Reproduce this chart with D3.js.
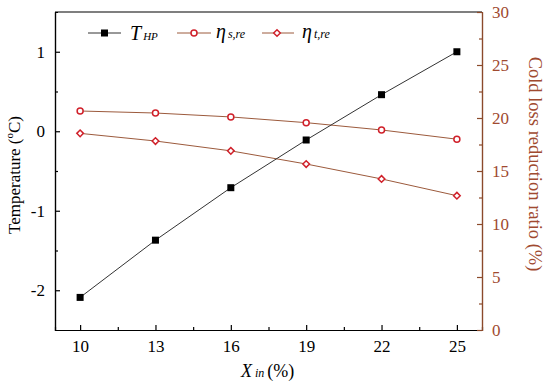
<!DOCTYPE html>
<html><head><meta charset="utf-8">
<script src="https://cdn.jsdelivr.net/npm/d3@7"></script>
<style>body{margin:0;background:#fff}svg{display:block}svg text{font-family:"Liberation Serif","Times New Roman",serif !important}</style>
</head><body><svg id="c" width="550" height="390"></svg>
<script>
const xValues = [10, 13, 16, 19, 22, 25];
const tHP = [-2.09, -1.37, -0.71, -0.11, 0.46, 1.0];
const etaS = [20.66, 20.47, 20.1, 19.56, 18.87, 18.0];
const etaT = [18.55, 17.83, 16.9, 15.66, 14.25, 12.67];
const xTicks = [10, 13, 16, 19, 22, 25];
const yLeftTicks = [-2, -1, 0, 1];
const yRightTicks = [0, 5, 10, 15, 20, 25, 30];

const svg = d3.select("#c");
const L = 55, R = 482, T = 12, B = 330;
const x = d3.scaleLinear().domain([9, 26]).range([L, R]);
const yL = d3.scaleLinear().domain([-2.5, 1.5]).range([B, T]);
const yR = d3.scaleLinear().domain([0, 30]).range([B, T]);
const brown = "#9c5a3c", red = "#d0202a", axisBrown = "#8b4a2b";

svg.append("line").attr("x1", L).attr("x2", R).attr("y1", T).attr("y2", T).attr("stroke", "#000").attr("stroke-width", 1.2);

const gx = svg.append("g").attr("transform", `translate(0,${B})`);
gx.append("g").call(d3.axisBottom(x).tickValues([11.5,14.5,17.5,20.5,23.5]).tickSize(-3).tickFormat(""));
gx.append("g").call(d3.axisBottom(x).tickValues(xTicks).tickSizeInner(-5).tickSizeOuter(0).tickPadding(10));
const gl = svg.append("g").attr("transform", `translate(${L},0)`);
gl.append("g").call(d3.axisLeft(yL).tickValues([-1.5,-0.5,0.5]).tickSize(-3).tickFormat(""));
gl.append("g").call(d3.axisLeft(yL).tickValues(yLeftTicks).tickSizeInner(-5).tickSizeOuter(0).tickPadding(10).tickFormat(d => d < 0 ? "-" + Math.abs(d) : String(d)));
const gr = svg.append("g").attr("transform", `translate(${R},0)`);
gr.append("g").call(d3.axisRight(yR).tickValues([2.5,7.5,12.5,17.5,22.5,27.5]).tickSize(-3).tickFormat(""));
gr.append("g").call(d3.axisRight(yR).tickValues(yRightTicks).tickSizeInner(-5).tickSizeOuter(0).tickPadding(10));

svg.selectAll("g").attr("font-family", null).attr("font-size", null);
[gx, gl].forEach(g => { g.selectAll("path,line").attr("stroke", "#000").attr("stroke-width", 1.2); g.selectAll("text").attr("font-size", 17).attr("fill", "#000"); });
gr.selectAll("path,line").attr("stroke", axisBrown).attr("stroke-width", 1.2);
gr.selectAll("text").attr("font-size", 17).attr("fill", "#a04a30");

const line = (ys, sc) => d3.line().x((d, i) => x(xValues[i])).y(d => sc(d))(ys);
svg.append("path").attr("d", line(etaS, yR)).attr("fill", "none").attr("stroke", brown).attr("stroke-width", 1);
svg.append("path").attr("d", line(etaT, yR)).attr("fill", "none").attr("stroke", brown).attr("stroke-width", 1);
svg.append("path").attr("d", line(tHP, yL)).attr("fill", "none").attr("stroke", "#333").attr("stroke-width", 1);

svg.selectAll(".mS").data(etaS).join("circle").attr("cx", (d, i) => x(xValues[i])).attr("cy", d => yR(d)).attr("r", 3)
  .attr("fill", "#fff").attr("stroke", red).attr("stroke-width", 1.5);
const diamond = d3.symbol().type(d3.symbolDiamond2).size(28);
svg.selectAll(".mT").data(etaT).join("path").attr("d", diamond).attr("transform", (d, i) => `translate(${x(xValues[i])},${yR(d)})`)
  .attr("fill", "#fff").attr("stroke", red).attr("stroke-width", 1.5);
svg.selectAll(".mH").data(tHP).join("rect").attr("x", (d, i) => x(xValues[i]) - 3.5).attr("y", d => yL(d) - 3.5)
  .attr("width", 7).attr("height", 7).attr("fill", "#000");

const ly = 33;
svg.append("line").attr("x1", 88).attr("x2", 121).attr("y1", ly).attr("y2", ly).attr("stroke", "#333");
svg.append("rect").attr("x", 104.5 - 3.5).attr("y", ly - 3.5).attr("width", 7).attr("height", 7).attr("fill", "#000");
let t = svg.append("text").attr("x", 130).attr("y", ly + 7).attr("font-size", 20).attr("font-style", "italic");
t.append("tspan").text("T");
t.append("tspan").attr("font-size", 11).attr("dx", 2).text("HP");

svg.append("line").attr("x1", 177).attr("x2", 211).attr("y1", ly).attr("y2", ly).attr("stroke", brown);
svg.append("circle").attr("cx", 194).attr("cy", ly).attr("r", 3).attr("fill", "#fff").attr("stroke", red).attr("stroke-width", 1.5);
t = svg.append("text").attr("x", 216).attr("y", ly + 5).attr("font-size", 20).attr("font-style", "italic");
t.append("tspan").text("η");
t.append("tspan").attr("font-size", 12).attr("dx", 2).text("s,re");

svg.append("line").attr("x1", 262).attr("x2", 294).attr("y1", ly).attr("y2", ly).attr("stroke", brown);
svg.append("path").attr("d", diamond).attr("transform", `translate(277,${ly})`).attr("fill", "#fff").attr("stroke", red).attr("stroke-width", 1.5);
t = svg.append("text").attr("x", 302).attr("y", ly + 5).attr("font-size", 20).attr("font-style", "italic");
t.append("tspan").text("η");
t.append("tspan").attr("font-size", 12).attr("dx", 2).text("t,re");

t = svg.append("text").attr("x", 241).attr("y", 377).attr("font-size", 18);
t.append("tspan").attr("font-style", "italic").text("X");
t.append("tspan").attr("font-style", "italic").attr("font-size", 12).attr("dx", 3).text("in");
t.append("tspan").attr("dx", 3).text("(%)");

t = svg.append("text").attr("transform", `translate(20,175) rotate(-90)`).attr("text-anchor", "middle").attr("font-size", 17);
t.append("tspan").text("Temperature (");
t.append("tspan").attr("font-size", 11).attr("dy", -7).text("o");
t.append("tspan").attr("dy", 7).text("C)");

svg.append("text").attr("transform", `translate(529,164) rotate(90)`).attr("text-anchor", "middle").attr("font-size", 18.5)
  .attr("fill", "#a04a30").text("Cold loss reduction ratio (%)");
</script></body></html>
